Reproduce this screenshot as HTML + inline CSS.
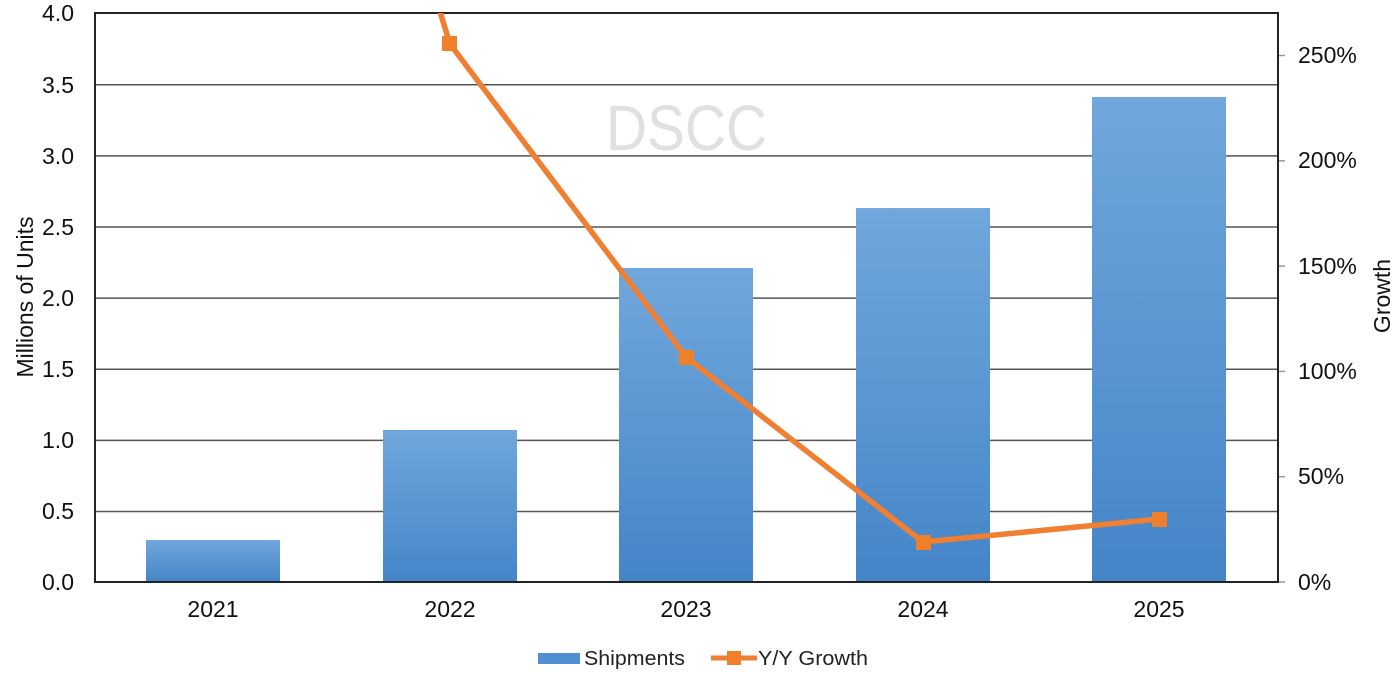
<!DOCTYPE html>
<html><head><meta charset="utf-8"><style>
html,body{margin:0;padding:0;background:#fff;}
svg{display:block;}
text{font-family:"Liberation Sans",Arial,sans-serif;fill:#111;}
</style></head><body>
<svg width="1400" height="676" viewBox="0 0 1400 676" xmlns="http://www.w3.org/2000/svg">
<defs>
<linearGradient id="bg" x1="0" y1="0" x2="0" y2="1">
<stop offset="0" stop-color="#70a7dc"/>
<stop offset="1" stop-color="#4485c8"/>
</linearGradient>
<clipPath id="pc"><rect x="95" y="13" width="1183" height="569"/></clipPath>
</defs>
<!-- gridlines -->
<g stroke="#555" stroke-width="1.5">
<line x1="95" y1="84.8" x2="1278" y2="84.8"/>
<line x1="95" y1="155.9" x2="1278" y2="155.9"/>
<line x1="95" y1="227" x2="1278" y2="227"/>
<line x1="95" y1="298.1" x2="1278" y2="298.1"/>
<line x1="95" y1="369.3" x2="1278" y2="369.3"/>
<line x1="95" y1="440.4" x2="1278" y2="440.4"/>
<line x1="95" y1="511.5" x2="1278" y2="511.5"/>
</g>
<!-- watermark -->
<text x="606" y="150" font-size="64" style="fill:#e0e0e0" textLength="161" lengthAdjust="spacingAndGlyphs">DSCC</text>
<!-- bars -->
<g fill="url(#bg)">
<rect x="146" y="540" width="134" height="42"/>
<rect x="383" y="430" width="134" height="152"/>
<rect x="619" y="268" width="134" height="314"/>
<rect x="856" y="208" width="134" height="374"/>
<rect x="1092" y="97" width="134" height="485"/>
</g>
<!-- axes -->
<g stroke="#222" stroke-width="2" fill="none">
<line x1="95" y1="13" x2="1278" y2="13"/>
<line x1="95" y1="12" x2="95" y2="583"/>
<line x1="94" y1="582" x2="1279" y2="582"/>
<line x1="1278" y1="12" x2="1278" y2="583"/>
</g>
<g stroke="#999" stroke-width="1.5">
<line x1="1279" y1="582" x2="1285" y2="582"/>
<line x1="1279" y1="476.7" x2="1285" y2="476.7"/>
<line x1="1279" y1="371.4" x2="1285" y2="371.4"/>
<line x1="1279" y1="266.1" x2="1285" y2="266.1"/>
<line x1="1279" y1="160.8" x2="1285" y2="160.8"/>
<line x1="1279" y1="55.5" x2="1285" y2="55.5"/>
</g>
<!-- line series -->
<g clip-path="url(#pc)">
<polyline points="213,-720 450,44 686,357 923,542 1159,519" fill="none" stroke="#ee7f33" stroke-width="5.5" stroke-linejoin="round"/>
</g>
<g fill="#f07f2a">
<rect x="442" y="36" width="15" height="15"/>
<rect x="679" y="350" width="15" height="15"/>
<rect x="916" y="535" width="15" height="15"/>
<rect x="1152" y="512" width="15" height="15"/>
</g>
<!-- left labels -->
<g font-size="23" text-anchor="end">
<text x="74" y="21">4.0</text>
<text x="74" y="93">3.5</text>
<text x="74" y="164">3.0</text>
<text x="74" y="235">2.5</text>
<text x="74" y="306">2.0</text>
<text x="74" y="377">1.5</text>
<text x="74" y="448">1.0</text>
<text x="74" y="519">0.5</text>
<text x="74" y="590">0.0</text>
</g>
<!-- right labels -->
<g font-size="23">
<text x="1298" y="63">250%</text>
<text x="1298" y="168">200%</text>
<text x="1298" y="274">150%</text>
<text x="1298" y="379">100%</text>
<text x="1298" y="484">50%</text>
<text x="1298" y="590">0%</text>
</g>
<!-- x labels -->
<g font-size="23" text-anchor="middle">
<text x="213" y="617">2021</text>
<text x="450" y="617">2022</text>
<text x="686" y="617">2023</text>
<text x="923" y="617">2024</text>
<text x="1159" y="617">2025</text>
</g>
<!-- axis titles -->
<text font-size="23" text-anchor="middle" transform="translate(33,297) rotate(-90)">Millions of Units</text>
<text font-size="23" text-anchor="middle" transform="translate(1390,296) rotate(-90)">Growth</text>
<!-- legend -->
<rect x="538" y="653" width="42" height="11" fill="#5090d0"/>
<text x="584" y="665" font-size="20" textLength="101" lengthAdjust="spacingAndGlyphs" style="fill:#222">Shipments</text>
<line x1="711" y1="658" x2="757" y2="658" stroke="#ee7f33" stroke-width="5"/>
<rect x="727" y="651" width="14" height="14" fill="#f07f2a"/>
<text x="758" y="665" font-size="20" textLength="110" lengthAdjust="spacingAndGlyphs" style="fill:#222">Y/Y Growth</text>
</svg>
</body></html>
